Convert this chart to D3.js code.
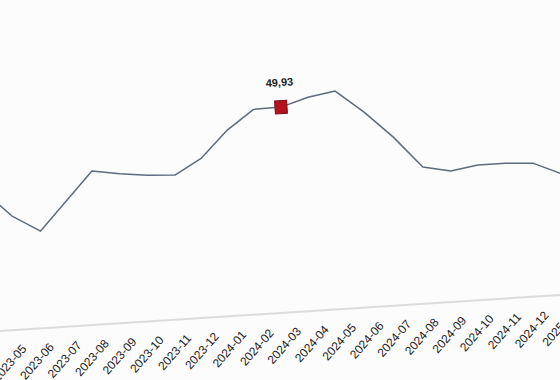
<!DOCTYPE html>
<html>
<head>
<meta charset="utf-8">
<script src="https://cdn.jsdelivr.net/npm/d3@7/dist/d3.min.js"></script>
<style>
  html, body { margin: 0; padding: 0; background: #fcfcfc; }
  svg { display: block; }
</style>
</head>
<body>
<div id="chart"></div>
<script>
// ---- data ----
const months = ["2023-04","2023-05","2023-06","2023-07","2023-08","2023-09","2023-10","2023-11","2023-12",
                "2024-01","2024-02","2024-03","2024-04","2024-05","2024-06","2024-07","2024-08","2024-09",
                "2024-10","2024-11","2024-12","2025-01"];
const values = [34.4, 27.7, 23.6, 30.5, 37.4, 36.3, 35.5, 35.1, 38.8,
                45.2, 49.8, 49.93, 51.9, 52.97, 47.4, 40.9, 33.2, 31.8,
                32.8, 32.8, 32.4, 29.4];
const highlightMonth = "2024-03";
const highlightLabel = "49,93";

// ---- layout ----
const W = 560, H = 380;
const axisY = 313, cx = 280, tilt = -3.68;

const svg = d3.select("#chart").append("svg")
  .attr("width", W).attr("height", H)
  .style("background", "#fcfcfc");

const g = svg.append("g").attr("transform", `rotate(${tilt},${cx},${axisY})`);

const x = d3.scalePoint().domain(months).range([-8.74, 569.6]).padding(0);
const y = d3.scaleLinear().domain([0, 55]).range([axisY, axisY - 55 * 4.114]);

// x axis
const ax = g.append("g").attr("transform", `translate(0,${axisY})`)
  .call(d3.axisBottom(x).tickSize(0).tickSizeOuter(0));
ax.select(".domain")
  .attr("d", `M-60,0H640`)
  .attr("stroke", "#dcdcdc").attr("stroke-width", 2);
ax.selectAll(".tick text")
  .attr("x", 0).attr("y", 0).attr("dy", 0)
  .attr("text-anchor", "end")
  .attr("transform", "translate(6,20) rotate(-45)")
  .attr("font-family", "'Liberation Sans', Arial, sans-serif")
  .attr("font-size", 12)
  .attr("fill", "#222");

// line
const data = months.map((m, i) => ({ m, v: values[i] }));
g.append("path").datum(data)
  .attr("fill", "none")
  .attr("stroke", "#5d6b7d")
  .attr("stroke-width", 1.5)
  .attr("stroke-linejoin", "round")
  .attr("d", d3.line().x(d => x(d.m)).y(d => y(d.v)));

// highlight marker
const hi = data.find(d => d.m === highlightMonth);
g.append("rect")
  .attr("x", x(hi.m) - 6).attr("y", y(hi.v) - 6.5)
  .attr("width", 12).attr("height", 13)
  .attr("fill", "#b3121c").attr("stroke", "#7a0a10").attr("stroke-width", 1);
g.append("text")
  .attr("x", x(hi.m)).attr("y", y(hi.v) - 21)
  .attr("text-anchor", "middle")
  .attr("font-family", "'Liberation Sans Narrow', 'Liberation Sans', Arial, sans-serif")
  .attr("font-size", 11).attr("font-weight", "bold")
  .attr("fill", "#1e1e1e")
  .text(highlightLabel);
</script>
</body>
</html>
